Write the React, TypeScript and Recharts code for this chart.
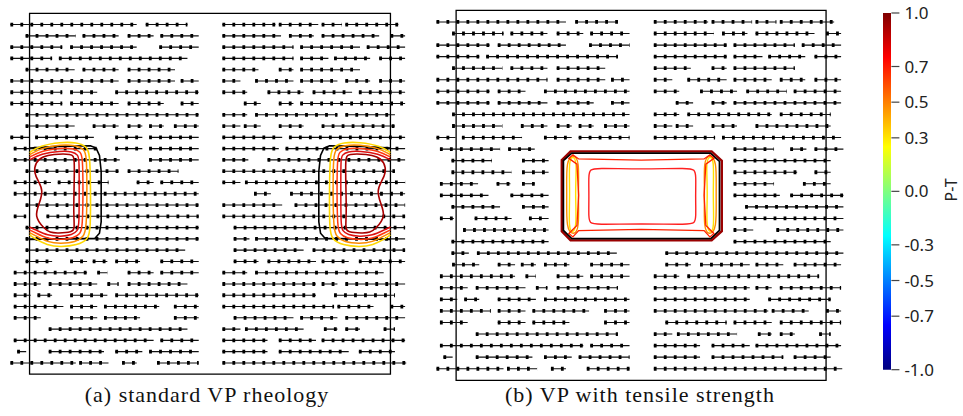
import React from 'react'
import { ComposedChart, Line, XAxis, YAxis, ReferenceArea, BarChart, Bar } from 'recharts'

type Seg = [number, number]
type Pt = [number, number]

// arrow chains per row (x extent in box units, box = 0..32), row 1 at the top
// west half points left, east half points right
const westRows: Seg[][] = [
  [[-1.7, 9.5], [10.3, 14]],
  [[-0.35, 4.1], [4.7, 7.9], [8.7, 11], [11.6, 15]],
  [[-1.7, 2.9], [3.6, 9.5], [11.5, 15]],
  [[-1.7, 2], [2.6, 14]],
  [[-0.35, 4], [4.7, 7.9], [8.7, 12.9]],
  [[-1.7, 7.9], [8.7, 12.9], [13.4, 15]],
  [[-1.7, 2.9], [3.6, 6], [7.6, 15]],
  [[-1.7, 2.9], [3.6, 7.9], [8.7, 11.9], [13.4, 15]],
  [[-0.35, 15]],
  [[-0.35, 4], [5.6, 7.9], [8.7, 10], [10.6, 11.9], [12.8, 15]],
  [[-1.7, -0.05], [0.5, 5.7], [7.6, 10], [10.6, 15]],
  [[-1.4, 6], [7.6, 10], [10.6, 15]],
  [[-1.4, 8], [10.6, 15]],
  [[-0.35, 7.9], [8.7, 13.2]],
  [[-1.4, 1.9], [2.5, 7], [9.5, 11], [11.6, 15]],
  [[-1.4, 15]],
  [[-0.35, 15]],
  [[-1.4, -0.3], [1.5, 15]],
  [[-0.35, 15]],
  [[-0.35, 15]],
  [[-0.35, 13.8]],
  [[-0.35, 2], [3.6, 5.1], [5.6, 6.9], [7.6, 9.8], [11.6, 15]],
  [[-1.4, 5.1], [6, 6.9], [8.7, 11], [11.6, 15]],
  [[-1.4, 1], [1.7, 6], [6.9, 7.9], [8.7, 14]],
  [[-1.4, 0.1], [0.7, 2], [3.6, 6.9], [7.6, 15]],
  [[-1.4, 3], [3.6, 6], [6.6, 11.5], [12.8, 15]],
  [[-1.4, 1], [3.6, 6], [6.6, 9.8], [12.8, 15]],
  [[1.7, 14]],
  [[-1.4, 11], [11.6, 15]],
  [[-1.1, -0.3], [1.7, 6.6], [7.6, 10], [10.6, 15]],
  [[-1.7, 4.1], [4.4, 7], [8.2, 9.5], [11.3, 15]],
]

const eastRows: Seg[][] = [
  [[17.1, 21.8], [22.1, 25.6], [25.9, 27.7], [28, 32.7]],
  [[17.1, 22.3], [23, 25.2], [25.9, 31], [32, 33.3]],
  [[17.1, 23.4], [24, 29.3], [29.9, 33.3]],
  [[17.1, 23.4], [24, 26.5], [27, 30.2], [31, 33.3]],
  [[17.1, 20.3], [22.1, 23.4], [24, 29.3]],
  [[17.1, 18.7], [20, 23.4], [24, 27.3], [28, 30.2], [31, 33.3]],
  [[17.1, 19.3], [21.1, 24.3], [25.1, 28.6], [29.2, 33.3]],
  [[19, 20.5], [22.1, 23.4], [24, 33.3]],
  [[17.1, 19.3], [20, 27.3], [28, 32.4]],
  [[17.1, 18.7], [19, 20.5], [22.1, 24.3], [25.9, 32.4]],
  [[17.1, 22.4], [23, 33.3]],
  [[17.1, 22.1], [22.7, 33.3]],
  [[17.1, 19.4], [21.1, 33.3]],
  [[17.1, 32.4]],
  [[17.1, 18.7], [19.1, 33.3]],
  [[19.9, 21.4], [23.1, 33.3]],
  [[17.1, 22.4], [23.5, 33.3]],
  [[17.1, 33.3]],
  [[18.1, 33.3]],
  [[18.1, 19.5], [20, 33.3]],
  [[18.1, 24.3], [25.1, 33.3]],
  [[18.1, 20.3], [21.1, 25.4], [25.9, 28.3], [29.2, 33.3]],
  [[17.1, 19.3], [20, 31.4]],
  [[17.1, 25.4], [25.9, 27.3], [28, 33.3]],
  [[17.1, 25.4], [27, 32.4]],
  [[17.1, 27], [27.3, 30.5], [32, 33.3]],
  [[18.1, 23.4], [24, 27.3], [28, 33.3]],
  [[17.1, 18.7], [19.1, 24.3], [26.1, 27.3], [28, 29.3], [31.4, 32.4]],
  [[17.1, 21.1], [22.1, 25.4], [25.9, 33.3]],
  [[17.1, 21.1], [22.1, 28.3], [29.2, 32.4]],
  [[17.1, 33.4]],
]

// panel (b): rows 12..21 differ around the block
const firstRowB = 12
const westRowsB: Seg[][] = [
  [[-1.4, 3.8], [4.5, 6.8]],
  [[-0.4, 3.1], [5.7, 8]],
  [[-0.4, 4.8], [5.7, 8]],
  [[-1.4, 1.9], [3.5, 4.7], [5.7, 6.8]],
  [[-1.4, 2.8], [4.7, 8]],
  [[-0.4, 3.8], [5.7, 8]],
  [[-1.4, -0.2], [1.6, 4.8], [6.3, 8]],
  [[0.6, 8]],
  [[-0.4, 8]],
  [[-0.4, 1.1], [1.8, 13.9]],
]
const eastRowsB: Seg[][] = [
  [[24, 27.5], [28.9, 30.3], [31, 33.5]],
  [[24, 32.4]],
  [[24, 29.5], [31, 32.4]],
  [[24, 27.5], [30, 32.4]],
  [[24, 28], [28.9, 33.5]],
  [[25, 33.5]],
  [[24, 33.5]],
  [[24, 25.7], [27.7, 33.5]],
  [[24, 32.4]],
  [[18.1, 33.5]],
]

// contours, panel (a): west wall
const aBlackW: Pt[] = [[0, 11.95], [2.5, 11.8], [5.4, 11.75], [5.9, 11.95], [6.2, 12.6], [6.35, 14], [6.35, 18.5], [6.2, 19.5], [5.8, 19.95], [0, 20.05]]
const aYellowW: Pt[] = [[0, 12.35], [0.9, 11.75], [2.75, 11.42], [4.2, 11.45], [5.05, 11.8], [5.35, 12.45], [5.41, 15.4], [5.41, 19.2], [5.2, 20.05], [4.23, 20.57], [2.75, 20.72], [1.57, 20.57], [0.4, 19.95], [0, 19.65]]
const aOrangeW: Pt[] = [[0, 12.55], [1, 11.95], [2.75, 11.65], [4.1, 11.7], [4.85, 12.05], [5.05, 12.6], [5.1, 15.4], [5.05, 19.1], [4.8, 19.8], [4.1, 20.3], [2.75, 20.42], [1.6, 20.3], [0.5, 19.7], [0, 19.45]]
const aRedW: Pt[] = [[0, 12.75], [1, 12.2], [2.75, 11.95], [3.9, 11.95], [4.55, 12.3], [4.7, 12.8], [4.75, 15.4], [4.7, 19], [4.5, 19.55], [3.9, 19.95], [2.75, 20.08], [1.6, 20], [0.5, 19.45], [0, 19.2]]
const aRed2W: Pt[] = [[0, 13], [1, 12.45], [2.75, 12.2], [3.8, 12.25], [4.3, 12.55], [4.4, 13], [4.4, 15.4], [4.4, 18.8], [4.25, 19.3], [3.8, 19.65], [2.75, 19.8], [1.6, 19.7], [0.55, 19.2], [0, 18.95]]
const aDarkW: Pt[] = [[0.5, 13.2], [1.2, 12.7], [2, 12.5], [3.8, 12.45], [4, 12.8], [3.95, 15.4], [3.9, 17.8], [4, 19.1], [3.8, 19.4], [2.5, 19.5], [1.8, 19.45], [1.3, 19.1], [0.4, 18], [0.9, 16.8], [1.2, 15.7], [0.8, 14.9], [0.4, 14.2]]
// panel (a): east wall
const aBlackE: Pt[] = [[32, 11.95], [29.5, 11.8], [26.6, 11.75], [26.1, 11.95], [25.8, 12.6], [25.65, 14], [25.65, 18.5], [25.8, 19.5], [26.2, 19.95], [32, 20.05]]
const aYellowE: Pt[] = [[32, 12.35], [31.1, 11.75], [29.25, 11.42], [27.8, 11.45], [26.95, 11.8], [26.65, 12.45], [26.59, 15.4], [26.59, 19.2], [26.8, 20.05], [27.77, 20.57], [29.25, 20.72], [30.43, 20.57], [31.6, 19.95], [32, 19.65]]
const aOrangeE: Pt[] = [[32, 12.55], [31, 11.95], [29.25, 11.65], [27.9, 11.7], [27.15, 12.05], [26.95, 12.6], [26.9, 15.4], [26.95, 19.1], [27.2, 19.8], [27.9, 20.3], [29.25, 20.42], [30.4, 20.3], [31.5, 19.7], [32, 19.45]]
const aRedE: Pt[] = [[32, 12.75], [31, 12.2], [29.25, 11.95], [28.1, 11.95], [27.45, 12.3], [27.3, 12.8], [27.25, 15.4], [27.3, 19], [27.5, 19.55], [28.1, 19.95], [29.25, 20.08], [30.4, 20], [31.5, 19.45], [32, 19.2]]
const aRed2E: Pt[] = [[32, 13], [31, 12.45], [29.25, 12.2], [28.2, 12.25], [27.7, 12.55], [27.6, 13], [27.6, 15.4], [27.6, 18.8], [27.75, 19.3], [28.2, 19.65], [29.25, 19.8], [30.4, 19.7], [31.45, 19.2], [32, 18.95]]
const aDarkE: Pt[] = [[31.5, 13.2], [30.8, 12.7], [30, 12.5], [28.2, 12.45], [28, 12.8], [28.05, 15.4], [28.1, 17.8], [28, 19.1], [28.2, 19.4], [29.5, 19.5], [30.2, 19.45], [30.7, 19.1], [31.6, 18], [31.1, 16.8], [30.8, 15.7], [31.2, 14.9], [31.6, 14.2]]

// contours, panel (b): block in the middle
const bDark: Pt[] = [[9.14, 12.95], [9.9, 12.2], [22.1, 12.2], [22.98, 13], [22.98, 19.1], [22.1, 19.9], [9.9, 19.9], [9.14, 19.1]]
const bBlack: Pt[] = [[9.28, 13], [10, 12.34], [22, 12.34], [22.78, 13.06], [22.78, 19.03], [22.03, 19.75], [10, 19.75], [9.28, 19.03]]
const bOrangeW: Pt[] = [[9.5, 12.9], [10.2, 12.5], [10.65, 13], [10.55, 15.8], [10.65, 18.9], [10.2, 19.45], [9.5, 19], [9.6, 15.8]]
const bYellowW: Pt[] = [[9.72, 12.77], [10.21, 12.63], [10.44, 13.2], [10.29, 15.8], [10.44, 18.68], [10.09, 19.26], [9.72, 18.97], [9.86, 15.8]]
const bOrangeE: Pt[] = [[22.56, 12.9], [21.86, 12.5], [21.41, 13], [21.51, 15.8], [21.41, 18.9], [21.86, 19.45], [22.56, 19], [22.46, 15.8]]
const bYellowE: Pt[] = [[22.34, 12.77], [21.85, 12.63], [21.62, 13.2], [21.77, 15.8], [21.62, 18.68], [21.97, 19.26], [22.34, 18.97], [22.2, 15.8]]
const bRedOuter: Pt[] = [[10.1, 12.5], [10.6, 12.85], [16, 12.95], [21.45, 12.85], [21.95, 12.5], [22.3, 12.8], [21.6, 13.3], [21.45, 16], [21.6, 18.6], [22.3, 19.3], [21.95, 19.6], [21.45, 19.05], [16, 18.95], [10.6, 19.05], [10.1, 19.6], [9.75, 19.3], [10.45, 18.6], [10.6, 16], [10.45, 13.3], [9.75, 12.8]]
const bRedInner: Pt[] = [[11.45, 14.2], [11.6, 13.8], [12, 13.63], [16, 13.75], [20.2, 13.63], [20.6, 13.8], [20.76, 14.2], [20.7, 16.1], [20.76, 18], [20.6, 18.4], [20.2, 18.54], [16, 18.45], [12, 18.54], [11.6, 18.4], [11.45, 18], [11.5, 16.1]]

// colour bar
const barTicks = [1.0, 0.7, 0.5, 0.3, 0.0, -0.3, -0.5, -0.7, -1.0]
const barRange = [{ k: 'P-T', v: [-1, 1] }]

type Contour = { points: Pt[]; color: string; width: number; curve: 'basis' | 'basisClosed' | 'linearClosed' | 'linear' }

const contoursA: Contour[] = [
  { points: aBlackW, color: '#000', width: 1.6, curve: 'linear' },
  { points: aBlackE, color: '#000', width: 1.6, curve: 'linear' },
  { points: aYellowW, color: '#FFD800', width: 1.6, curve: 'basis' },
  { points: aYellowE, color: '#FFD800', width: 1.6, curve: 'basis' },
  { points: aOrangeW, color: '#FF8C00', width: 1.5, curve: 'basis' },
  { points: aOrangeE, color: '#FF8C00', width: 1.5, curve: 'basis' },
  { points: aRedW, color: '#FF3A10', width: 1.5, curve: 'basis' },
  { points: aRedE, color: '#FF3A10', width: 1.5, curve: 'basis' },
  { points: aRed2W, color: '#DD1010', width: 1.5, curve: 'basis' },
  { points: aRed2E, color: '#DD1010', width: 1.5, curve: 'basis' },
  { points: aDarkW, color: '#A80000', width: 1.6, curve: 'basisClosed' },
  { points: aDarkE, color: '#A80000', width: 1.6, curve: 'basisClosed' },
]

const contoursB: Contour[] = [
  { points: bDark, color: '#9A0000', width: 2.4, curve: 'linearClosed' },
  { points: bBlack, color: '#000', width: 1.7, curve: 'linearClosed' },
  { points: bOrangeW, color: '#FF8C00', width: 1.4, curve: 'basisClosed' },
  { points: bOrangeE, color: '#FF8C00', width: 1.4, curve: 'basisClosed' },
  { points: bYellowW, color: '#FFE000', width: 1.4, curve: 'basisClosed' },
  { points: bYellowE, color: '#FFE000', width: 1.4, curve: 'basisClosed' },
  { points: bRedOuter, color: '#FF2200', width: 1.3, curve: 'linearClosed' },
  { points: bRedInner, color: '#FF2020', width: 1.4, curve: 'basisClosed' },
]

const rowsToLine = (rows: Seg[][]) => {
  const out: { x: number; y: number | null }[] = []
  rows.forEach((segs, i) => {
    segs.forEach(([a, b]) => {
      out.push({ x: a, y: i + 1 }, { x: b, y: i + 1 }, { x: b, y: null })
    })
  })
  return out
}

const withRows = (rows: Seg[][], over: Seg[][]) =>
  rows.map((r, i) => {
    const j = i + 1 - firstRowB
    return j >= 0 && j < over.length ? over[j] : r
  })

const toXY = (p: Pt[]) => p.map(([x, y]) => ({ x, y }))

interface PanelProps {
  west: Seg[][]
  east: Seg[][]
  contours: Contour[]
  left: number
  top: number
  width: number
  height: number
  yDomain: [number, number]
}

function FlowPanel({ west, east, contours, left, top, width, height, yDomain }: PanelProps) {
  const chains = [rowsToLine(west), rowsToLine(east)]
  return (
    <div style={{ position: 'absolute', left, top }}>
      <ComposedChart width={width} height={height} margin={{ top: 0, right: 0, bottom: 0, left: 0 }}>
        <XAxis type="number" dataKey="x" domain={[-2, 34]} hide allowDataOverflow />
        <YAxis type="number" domain={yDomain} reversed hide allowDataOverflow />
        <ReferenceArea x1={0} x2={32} y1={0} y2={32} fill="none" stroke="#000" strokeWidth={1.3} ifOverflow="visible" />
        {chains.map((d, k) => (
          <Line key={'shaft' + k} data={d} dataKey="y" type="linear" stroke="#111" strokeWidth={1.1}
            dot={false} activeDot={false} isAnimationActive={false} legendType="none" />
        ))}
        {chains.map((d, k) => (
          <Line key={'head' + k} data={d} dataKey="y" type="linear" stroke="#000" strokeWidth={3.8}
            strokeDasharray="2.8 7.2" dot={false} activeDot={false} isAnimationActive={false} legendType="none" />
        ))}
        {contours.map((c, k) => (
          <Line key={'c' + k} data={toXY(c.points)} dataKey="y" type={c.curve} stroke={c.color} strokeWidth={c.width}
            dot={false} activeDot={false} isAnimationActive={false} legendType="none" />
        ))}
      </ComposedChart>
    </div>
  )
}

const captionStyle: React.CSSProperties = {
  position: 'absolute',
  width: 320,
  textAlign: 'center',
  fontFamily: '"Liberation Serif", serif',
  fontSize: 22,
  lineHeight: '22px',
  letterSpacing: 1,
  color: '#111',
  whiteSpace: 'nowrap',
}

export default function App() {
  return (
    <div style={{ position: 'absolute', left: 0, top: 0, width: 963, height: 416, background: '#fff', overflow: 'hidden' }}>
      <FlowPanel west={westRows} east={eastRows} contours={contoursA}
        left={6.8} top={1.7} width={406} height={383.5} yDomain={[-1, 33]} />
      <FlowPanel west={withRows(westRows, westRowsB)} east={withRows(eastRows, eastRowsB)} contours={contoursB}
        left={432.9} top={0.3} width={416.2} height={390.7} yDomain={[-0.9, 32.9]} />

      <div style={{ position: 'absolute', left: 883.3, top: 0.3 }}>
        <BarChart width={80} height={382.7} data={barRange} margin={{ top: 13, right: 0, bottom: 13, left: 0 }} barCategoryGap={0}>
          <defs>
            <linearGradient id="jet" x1="0" y1="0" x2="0" y2="1">
              <stop offset="0" stopColor="#7f0000" />
              <stop offset="0.125" stopColor="#ff0000" />
              <stop offset="0.375" stopColor="#ffff00" />
              <stop offset="0.5" stopColor="#7fff7f" />
              <stop offset="0.625" stopColor="#00ffff" />
              <stop offset="0.875" stopColor="#0000ff" />
              <stop offset="1" stopColor="#00007f" />
            </linearGradient>
          </defs>
          <XAxis dataKey="k" hide />
          <YAxis orientation="right" type="number" domain={[-1, 1]} ticks={barTicks} width={71.6}
            axisLine={false} tickSize={8} tickMargin={5} tickLine={{ stroke: '#444', strokeWidth: 1.2 }}
            tickFormatter={(v: number) => v.toFixed(1)} interval={0}
            tick={{ fill: '#222', fontSize: 17, fontFamily: '"Noto Sans", sans-serif' }} />
          <Bar dataKey="v" fill="url(#jet)" isAnimationActive={false} />
        </BarChart>
      </div>
      <div style={{ position: 'absolute', left: 933, top: 182, width: 36, height: 16, lineHeight: '16px', textAlign: 'center',
        transform: 'rotate(-90deg)', fontFamily: '"Noto Sans", sans-serif', fontSize: 16, color: '#222' }}>P-T</div>

      <div style={{ ...captionStyle, left: 207 - 160, top: 383.6 }}>(a) standard VP rheology</div>
      <div style={{ ...captionStyle, left: 640 - 160, top: 383.6 }}>(b) VP with tensile strength</div>
    </div>
  )
}
